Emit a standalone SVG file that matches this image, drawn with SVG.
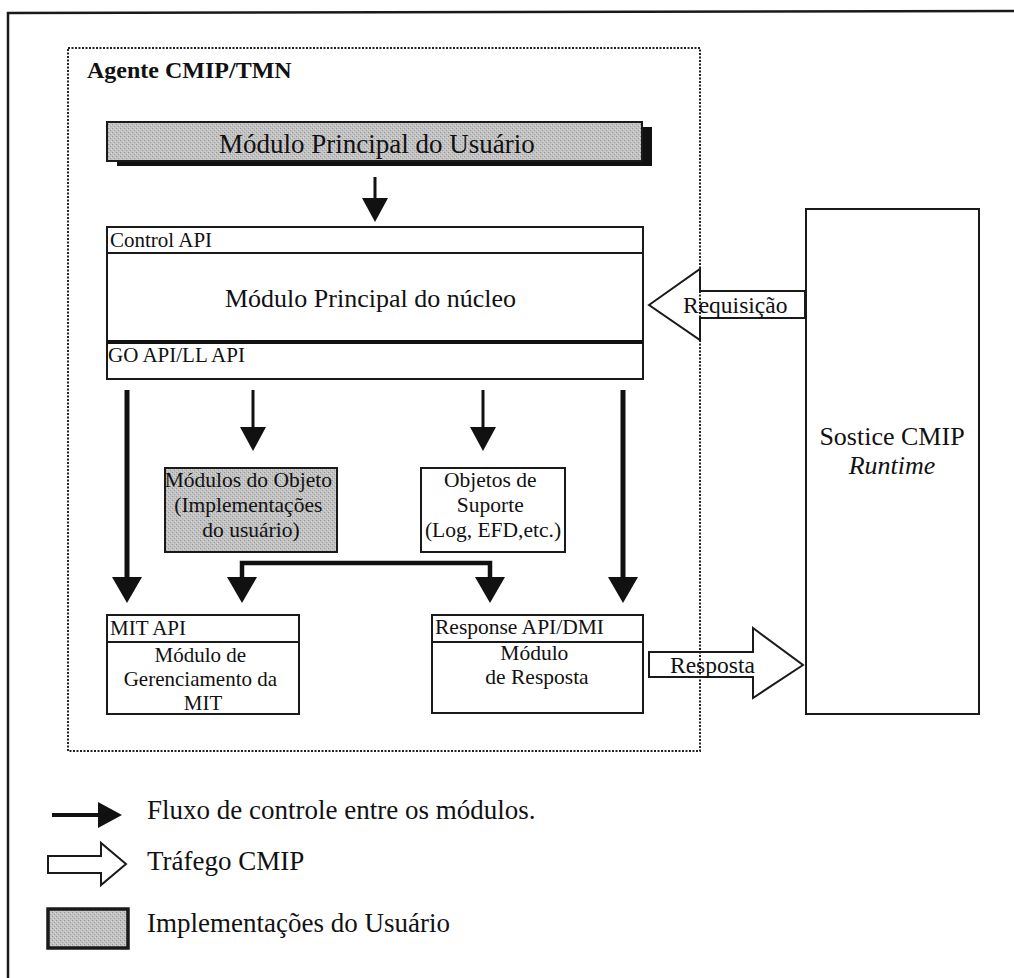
<svg xmlns="http://www.w3.org/2000/svg" width="1014" height="978" viewBox="0 0 1014 978">
  <style>
    .t { font-family: "Liberation Serif", "Times New Roman", serif; fill: #111; }
    .box { fill: #fff; stroke: #1a1a1a; stroke-width: 2; }
    .gray { fill: url(#halftone); stroke: #1a1a1a; stroke-width: 2; }
    .flow { fill: none; stroke: #111; }
    .hollow { fill: none; stroke: #1a1a1a; stroke-width: 2; stroke-linejoin: miter; }
  </style>
  <defs>
    <!-- speckled grey used for user-implemented modules -->
    <pattern id="halftone" width="4" height="4" patternUnits="userSpaceOnUse">
      <rect width="4" height="4" fill="#c2c2c2"/>
      <rect x="0" y="0" width="1" height="1" fill="#959595"/>
      <rect x="2" y="2" width="1" height="1" fill="#a0a0a0"/>
      <rect x="3" y="1" width="1" height="1" fill="#d8d8d8"/>
      <rect x="1" y="3" width="1" height="1" fill="#d4d4d4"/>
    </pattern>
    <marker id="headS" markerUnits="userSpaceOnUse" viewBox="0 0 24 26" refX="12" refY="13" markerWidth="24" markerHeight="26" orient="auto">
      <path d="M0,0 L24,13 L0,26 Z" fill="#111"/>
    </marker>
    <marker id="headL" markerUnits="userSpaceOnUse" viewBox="0 0 26 30" refX="13" refY="15" markerWidth="26" markerHeight="30" orient="auto-start-reverse">
      <path d="M0,0 L26,15 L0,30 Z" fill="#111"/>
    </marker>
  </defs>

  <rect width="1014" height="978" fill="#fff"/>

  <!-- outer frame (top and left edges) -->
  <g id="frame">
    <polyline points="8,978 8,13 1014,11" fill="none" stroke="#1a1a1a" stroke-width="2.5"/>
  </g>

  <!-- dotted agent boundary -->
  <g id="agent">
    <rect x="68" y="48" width="632" height="703" fill="none" stroke="#222" stroke-width="2" stroke-dasharray="2 1.5"/>
    <text class="t" x="87" y="78" font-size="24" font-weight="bold">Agente CMIP/TMN</text>
  </g>

  <!-- user main module -->
  <g id="user-main">
    <rect x="117" y="127" width="535" height="39" fill="#111"/>
    <rect x="107" y="122" width="535" height="39" class="gray"/>
    <text class="t" x="219" y="153" font-size="27">Módulo Principal do Usuário</text>
  </g>

  <!-- kernel main module -->
  <g id="kernel">
    <rect x="107" y="227" width="536" height="152" class="box"/>
    <line x1="107" y1="253" x2="643" y2="253" stroke="#1a1a1a" stroke-width="2"/>
    <line x1="107" y1="342" x2="643" y2="342" stroke="#111" stroke-width="4"/>
    <text class="t" x="110" y="247" font-size="21">Control API</text>
    <text class="t" x="225" y="307" font-size="26">Módulo Principal do núcleo</text>
    <text class="t" x="108" y="362" font-size="21">GO API/LL API</text>
  </g>

  <!-- object modules (user implementations) -->
  <g id="object-modules">
    <rect x="165" y="468" width="172" height="84" class="gray"/>
    <text class="t" font-size="21.5" text-anchor="middle">
      <tspan x="251" y="487">Módulos do Objeto</tspan>
      <tspan x="251" y="512">(Implementações</tspan>
      <tspan x="251" y="537">do usuário)</tspan>
    </text>
  </g>

  <!-- support objects -->
  <g id="support-objects">
    <rect x="421" y="468" width="144" height="84" class="box"/>
    <text class="t" font-size="21.5" text-anchor="middle">
      <tspan x="493" y="487">Objetos de</tspan>
      <tspan x="493" y="512">Suporte</tspan>
      <tspan x="493" y="537">(Log, EFD,etc.)</tspan>
    </text>
  </g>

  <!-- MIT management module -->
  <g id="mit">
    <rect x="107" y="615" width="192" height="99" class="box"/>
    <line x1="107" y1="642" x2="299" y2="642" stroke="#1a1a1a" stroke-width="2"/>
    <text class="t" x="110" y="635" font-size="21">MIT API</text>
    <text class="t" font-size="21" text-anchor="middle">
      <tspan x="203" y="662">Módulo de</tspan>
      <tspan x="203" y="686">Gerenciamento da</tspan>
      <tspan x="203" y="710">MIT</tspan>
    </text>
  </g>

  <!-- response module -->
  <g id="response">
    <rect x="432" y="615" width="211" height="98" class="box"/>
    <line x1="432" y1="642" x2="643" y2="642" stroke="#1a1a1a" stroke-width="2"/>
    <text class="t" x="435" y="634" font-size="21.5">Response API/DMI</text>
    <text class="t" font-size="21.5" text-anchor="middle">
      <tspan x="537" y="660">Módulo</tspan>
      <tspan x="537" y="684">de Resposta</tspan>
    </text>
  </g>

  <!-- CMIP runtime -->
  <g id="runtime">
    <rect x="806" y="209" width="173" height="505" class="box"/>
    <text class="t" x="892" y="445" font-size="26" text-anchor="middle">Sostice CMIP</text>
    <text class="t" x="892" y="474" font-size="26" font-style="italic" text-anchor="middle">Runtime</text>
  </g>

  <!-- control flow and CMIP traffic -->
  <g id="connectors">
    <line class="flow" x1="375" y1="177" x2="375" y2="210" stroke-width="3" marker-end="url(#headS)"/>
    <line class="flow" x1="127" y1="390" x2="127" y2="590" stroke-width="5" marker-end="url(#headL)"/>
    <line class="flow" x1="253" y1="390" x2="253" y2="439" stroke-width="3" marker-end="url(#headS)"/>
    <line class="flow" x1="483" y1="390" x2="483" y2="439" stroke-width="3" marker-end="url(#headS)"/>
    <line class="flow" x1="623" y1="390" x2="623" y2="590" stroke-width="5" marker-end="url(#headL)"/>
    <path class="flow" d="M242,590 V563 H490 V590" stroke-width="4.5" marker-start="url(#headL)" marker-end="url(#headL)"/>

    <!-- request from the runtime -->
    <polygon class="hollow" points="649,305 700,269 700,291 805,291 805,318 700,318 700,340"/>
    <text class="t" x="683" y="313" font-size="23.5">Requisição</text>

    <!-- response to the runtime -->
    <polygon class="hollow" points="649,652 753,652 753,628 803,665 753,698 753,677 649,677"/>
    <text class="t" x="670" y="673" font-size="23.5">Resposta</text>
  </g>

  <!-- legend -->
  <g id="legend">
    <line class="flow" x1="52" y1="815" x2="110" y2="815" stroke-width="4" marker-end="url(#headS)"/>
    <text class="t" x="147" y="819" font-size="27">Fluxo de controle entre os módulos.</text>
    <polygon class="hollow" points="48,856 101,856 101,843 126,864 101,885 101,873 48,873"/>
    <text class="t" x="147" y="870" font-size="27">Tráfego CMIP</text>
    <rect x="48" y="909" width="80" height="39" fill="url(#halftone)" stroke="#1a1a1a" stroke-width="3.5"/>
    <text class="t" x="147" y="932" font-size="27">Implementações do Usuário</text>
  </g>
</svg>
